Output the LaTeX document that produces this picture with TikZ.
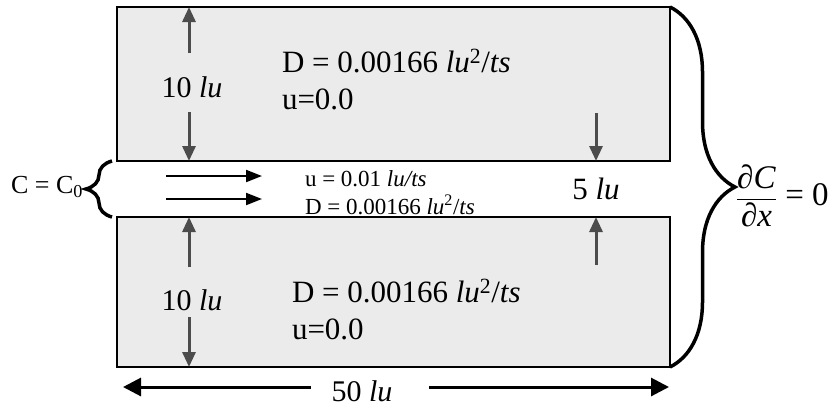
\documentclass[tikz,border=0pt]{standalone}
\usepackage{amsmath}
\usepackage{fontspec}
\setmainfont{Liberation Serif}
\usepackage{tikz}
\usetikzlibrary{positioning,arrows.meta,decorations.pathreplacing}

\begin{document}
\begin{tikzpicture}[x=1pt, y=-1pt, every node/.style={inner sep=0pt, outer sep=0pt},
  slab/.style={draw, line width=2pt, fill=gray!16, minimum width=553pt},
  dimarr/.style={draw=black!70, line width=3pt, -{Triangle[width=13pt,length=15pt]}},
  flowarr/.style={draw, line width=2pt, -{Triangle[width=12pt,length=16pt]}},
  lenarr/.style={draw, line width=3pt, -{Triangle[width=18pt,length=18pt]}},
  bracearr/.style={draw, line width=3.5pt, decorate, decoration={brace, amplitude=#1}}]
\useasboundingbox (0,0) rectangle (832,408);
\node[slab, minimum height=154pt] (topslab) at (393.5,84) {};
\node[slab, minimum height=150pt] (botslab) at (393.5,292) {};
\node[anchor=west, align=left, font=\fontsize{31}{37}\selectfont] (topprops) at (282,80) {D = 0.00166 \textit{lu}\textsuperscript{2}/\textit{ts}\\u=0.0};
\node[anchor=west, align=left, font=\fontsize{31}{37}\selectfont] (botprops) at (292,310) {D = 0.00166 \textit{lu}\textsuperscript{2}/\textit{ts}\\u=0.0};
\node[anchor=west, align=left, font=\fontsize{23}{28}\selectfont] (midprops) at (305,193) {u = 0.01 \textit{lu/ts}\\D = 0.00166 \textit{lu}\textsuperscript{2}/\textit{ts}};
\node[font=\fontsize{30}{30}\selectfont] (toplen) at (192,87) {10 \textit{lu}};
\node[font=\fontsize{30}{30}\selectfont] (botlen) at (192,300) {10 \textit{lu}};
\node[font=\fontsize{31}{30}\selectfont] (gaplen) at (596,189) {5 \textit{lu}};
\node[font=\fontsize{30}{30}\selectfont] (lenlbl) at (362,391) {50 \textit{lu}};
\node[anchor=east, font=\fontsize{26}{26}\selectfont] (inlet) at (83,187) {C = C\textsubscript{0}};
\node[anchor=west, font=\fontsize{33}{30}\selectfont] (outlet) at (736,196) {$\displaystyle\frac{\text{∂\textit{C}}}{\text{∂\textit{x}}}$ = 0};
\coordinate (lenL) at (123,387);
\coordinate (lenR) at (669,387);
% thickness arrows
\foreach \lbl/\slab/\up/\dn in {toplen/topslab/34/25, botlen/botslab/33/17}{
  \draw[dimarr] ([xshift=-3pt,yshift=\up pt]\lbl.center) -- ([xshift=-3pt]\lbl |- \slab.north);
  \draw[dimarr] ([xshift=-3pt,yshift=-\dn pt]\lbl.center) -- ([xshift=-3pt]\lbl |- \slab.south);
}
\draw[dimarr] ([yshift=76pt]gaplen.center) -- (gaplen |- topslab.south);
\draw[dimarr] ([yshift=-76pt]gaplen.center) -- (gaplen |- botslab.north);
\draw[lenarr] ([xshift=-21pt]lenlbl.west |- lenL) -- (lenL);
\draw[lenarr] ([xshift=37pt]lenlbl.east |- lenR) -- (lenR);
% flow
\foreach \y in {176,199}{\draw[flowarr] (166,\y) -- (262,\y);}
% boundary conditions
\draw[bracearr=65pt] (topslab.north east) -- (botslab.south east);
\draw[bracearr=26pt] ([xshift=-5pt]botslab.north west) -- ([xshift=-5pt]topslab.south west);
\end{tikzpicture}
\end{document}
